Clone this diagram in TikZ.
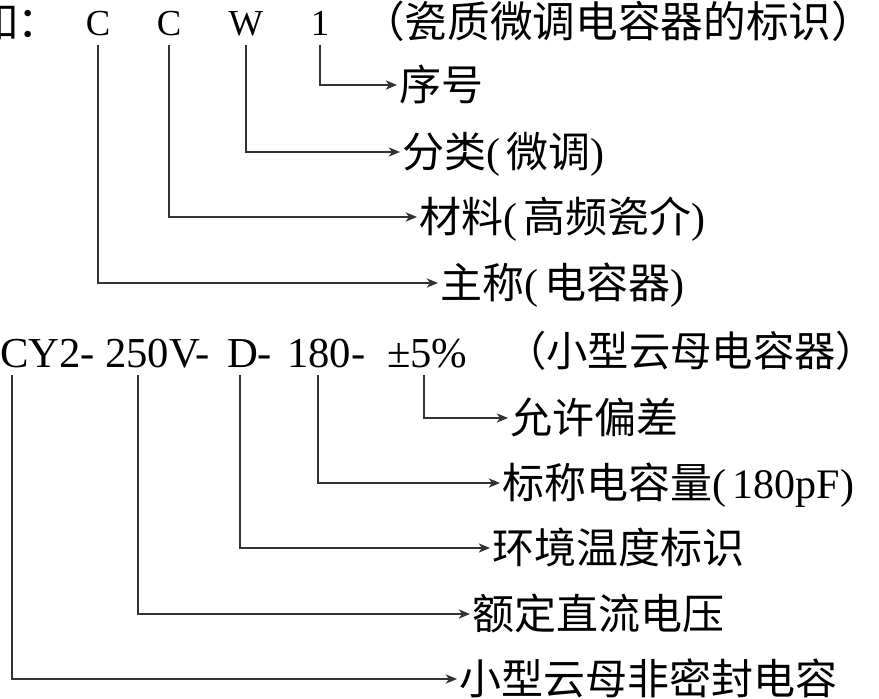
\documentclass[tikz,border=0pt]{standalone}
\usepackage{fontspec}
\setmainfont{Liberation Serif}
\newfontfamily\cjkfont{Noto Sans CJK SC}
\usetikzlibrary{arrows.meta}
\newcommand\zh[1]{{\cjkfont #1}}
\begin{document}
\begin{tikzpicture}[x=0.75pt,y=-0.75pt,
  every node/.style={inner sep=0pt, outer sep=0pt},
  letter/.style={font=\fontsize{27.5}{30}\selectfont, anchor=base},
  code/.style={font=\fontsize{32}{36}\selectfont, anchor=base west},
  head/.style={font=\fontsize{31.5}{36}\selectfont, anchor=base west},
  lab/.style={font=\fontsize{31.5}{36}\selectfont, anchor=west, text height=27.7pt, text depth=3.8pt, inner xsep=1.5pt},
  conn/.style={draw=black!80, line width=0.9pt, -{Stealth[length=8.5pt,width=7pt,inset=2.5pt]}},
]
\useasboundingbox (0,0) rectangle (879,699);

% ---- first example ----
\node[head, font=\fontsize{32}{36}\selectfont] (intro) at (-25,38) {\zh{如：}};
\node[letter] (c1) at (98,36) {C};
\node[letter] (c2) at (169,36) {C};
\node[letter] (c3) at (246,36) {W};
\node[letter] (c4) at (320,36) {1};
\node[head, font=\fontsize{32}{36}\selectfont] (h1) at (362,38) {\zh{（瓷质微调电容器的标识）}};

\node[lab] (l1) at (397,85)  {\zh{序号}};
\node[lab] (l2) at (400,152) {\zh{分类}(\,\zh{微调})};
\node[lab] (l3) at (417,217) {\zh{材料}(\,\zh{高频瓷介})};
\node[lab] (l4) at (438,283) {\zh{主称}(\,\zh{电容器})};

\draw[conn] ([yshift=-6.5pt]c4.south) |- (l1.west);
\draw[conn] ([yshift=-6.5pt]c3.south) |- (l2.west);
\draw[conn] ([yshift=-6.5pt]c2.south) |- (l3.west);
\draw[conn] ([yshift=-6.5pt]c1.south) |- (l4.west);

% ---- second example ----
\node[code] (p1) at (0,367)   {CY2-};
\node[code] (p2) at (105,367) {250V-};
\node[code] (p3) at (227,367) {D-};
\node[code] (p4) at (287,367) {180-};
\node[code] (p5) at (387,367) {±5\%};
\node[head, font=\fontsize{31}{36}\selectfont] (h2) at (505,366) {\zh{（小型云母电容器）}};

\coordinate (s1) at (12,375);
\coordinate (s2) at (138,375);
\coordinate (s3) at (240,375);
\coordinate (s4) at (318,375);
\coordinate (s5) at (424,375);

\node[lab] (m1) at (508,418) {\zh{允许偏差}};
\node[lab] (m2) at (500,483) {\zh{标称电容量}(\,180pF)};
\node[lab] (m3) at (490,548) {\zh{环境温度标识}};
\node[lab] (m4) at (470,614) {\zh{额定直流电压}};
\node[lab] (m5) at (457,679) {\zh{小型云母非密封电容}};

\draw[conn] (s5) |- (m1.west);
\draw[conn] (s4) |- (m2.west);
\draw[conn] (s3) |- (m3.west);
\draw[conn] (s2) |- (m4.west);
\draw[conn] (s1) |- (m5.west);
\end{tikzpicture}
\end{document}
